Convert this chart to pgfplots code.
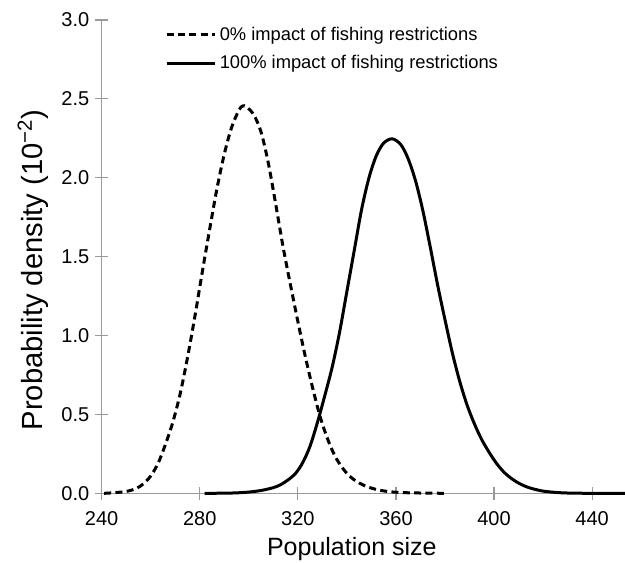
\documentclass[border=0pt]{standalone}
\usepackage{fontspec}
\setmainfont{Liberation Sans}
\usepackage{pgfplots}
\usepackage{pgfplotstable}
\pgfplotsset{compat=1.18}
\definecolor{axgray}{HTML}{9A9A9A}

% dashed curve: 0% impact of fishing restrictions
\pgfplotstableread{
x y
241 0.000
245 0.004
250 0.012
254 0.030
257 0.060
260 0.110
263 0.190
266 0.310
269 0.450
272 0.630
275 0.860
278 1.120
281 1.400
284 1.670
287 1.930
290 2.150
293 2.320
296 2.430
297.5 2.455
299 2.450
302 2.400
305 2.290
308 2.090
311 1.830
314 1.560
317 1.320
320 1.090
323 0.870
326 0.670
329 0.490
332 0.350
335 0.240
338 0.165
341 0.110
344 0.075
347 0.050
350 0.033
353 0.021
356 0.013
359 0.008
364 0.004
370 0.002
375 0.001
380 0.000
}\dashdata

% solid curve: 100% impact of fishing restrictions
\pgfplotstableread{
x y
282 0.000
290 0.001
295 0.003
300 0.008
305 0.018
310 0.036
313 0.055
316 0.085
319 0.125
322 0.195
325 0.300
328 0.450
331 0.620
334 0.800
337 1.020
340 1.280
343 1.540
346 1.800
349 2.000
352 2.140
355 2.220
358.5 2.247
362 2.210
365 2.120
368 1.980
371 1.790
374 1.560
377 1.320
380 1.100
383 0.890
386 0.710
389 0.560
392 0.440
395 0.340
398 0.260
401 0.190
404 0.135
407 0.095
410 0.065
413 0.043
416 0.028
420 0.014
425 0.006
430 0.002
440 0.000
453.4 0.000
}\soliddata

\begin{document}
\begin{tikzpicture}
\begin{axis}[
    name=ax,
    scale only axis,
    width=314pt, height=284pt,
    xmin=240, xmax=453.4,
    ymin=0, ymax=3,
    axis x line*=bottom,
    axis y line*=left,
    xtick pos=left, ytick pos=left,
    axis line style={axgray, line width=0.7pt},
    xtick={240,280,...,440},
    ytick={0,0.5,...,3},
    tick align=center,
    major tick length=7.8pt,
    tick style={axgray, line width=0.7pt},
    /pgf/number format/assume math mode=true,
    yticklabel style={/pgf/number format/.cd, fixed, fixed zerofill, precision=1},
    tick label style={font=\fontsize{12}{14}\selectfont},
    xticklabel style={yshift=-3.5pt},
    xlabel={Population size},
    ylabel={Probability density (10\textsuperscript{−2})},
    xlabel style={font=\fontsize{15}{18}\selectfont, at={(axis description cs:0.478,-0.118)}, anchor=center},
    ylabel style={font=\fontsize{17.5}{20}\selectfont, at={(axis description cs:-0.131,0.472)}, anchor=center},
    clip=false,
    legend cell align=left,
    legend style={
        draw=none, fill=none,
        at={(axis description cs:0.111,1.0)}, anchor=north west,
        font=\fontsize{11}{13}\selectfont,
        row sep=3.5pt,
    },
    legend image code/.code={
        \path (0pt,0pt) -- (29pt,0pt);
        \draw[#1] (0pt,0pt) -- (24pt,0pt);
    },
]
\addplot[black, line width=1.8pt, smooth, tension=0.5, dash pattern=on 4.2pt off 2.6pt] table {\dashdata};
\addlegendentry{0\% impact of fishing restrictions}
\addplot[black, line width=1.8pt, smooth, tension=0.5] table {\soliddata};
\addlegendentry{100\% impact of fishing restrictions}
\end{axis}
\pgfresetboundingbox
\path[use as bounding box] ([xshift=-61pt, yshift=-41.4pt]ax.south west) rectangle ([yshift=12pt]ax.north east);
\end{tikzpicture}
\end{document}
